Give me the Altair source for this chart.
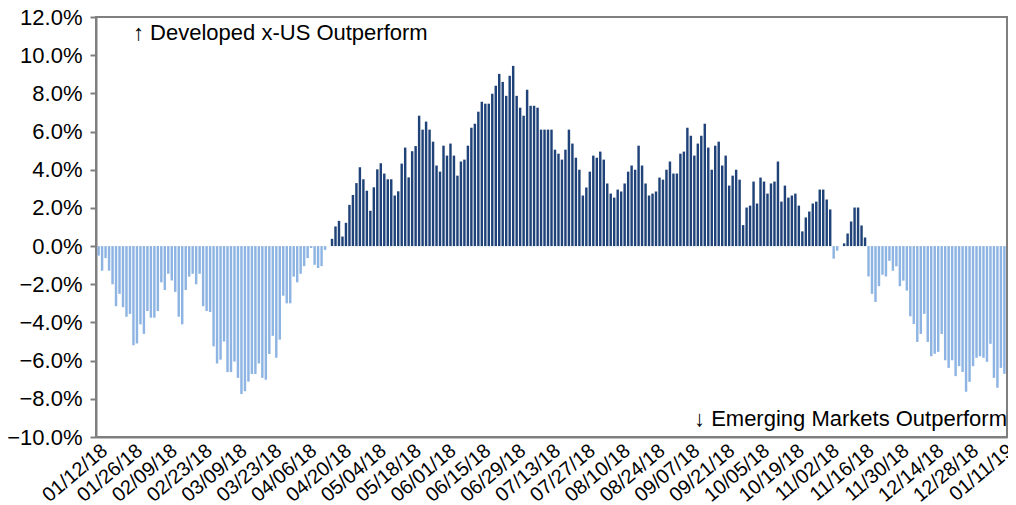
import altair as alt
import pandas as pd

# Daily relative performance (%), Developed x-US minus Emerging Markets
values = [
    -0.5, -1.29, -0.63, -1.29, -2.0, -3.15, -2.5, -3.2, -3.7, -3.55, -5.2, -5.1, -4.1, -4.6, -3.4,
    -3.75, -3.75, -3.4, -1.9, -2.3, -1.45, -1.8, -2.4, -3.7, -4.1,
    -2.3, -1.6, -1.45, -2.0, -1.45, -3.15, -3.4, -3.45, -5.25, -6.15, -5.95, -5.0, -6.6, -6.6,
    -6.05, -6.9, -7.75, -7.6, -7.1, -6.7, -6.7, -6.15, -6.9, -7.0, -5.65,
    -4.7, -5.85, -4.9, -2.6, -3.0, -3.0, -1.6, -1.9, -1.45, -1.05, -0.63, -0.1, -0.98, -1.15,
    -1.05, -0.2, 0.0,
    0.38, 1.03, 1.32, 0.5, 1.22, 2.16, 2.68, 3.3, 4.13, 3.5, 2.9, 1.85, 3.08, 4.02, 4.34, 3.8,
    3.5, 3.5, 2.65, 2.87, 4.32, 5.16, 3.6, 4.97,
    5.24, 6.83, 6.1, 6.52, 6.1, 5.47, 4.22, 3.9, 5.26, 4.74, 5.37, 4.74, 3.69, 4.43, 4.53, 5.26,
    6.2, 6.41, 7.04, 7.56, 7.46, 7.46, 7.98, 8.4, 9.02, 8.6,
    7.87, 8.92, 9.44, 7.87, 7.25, 6.83, 8.19, 7.35, 7.35, 7.25, 6.1, 6.1, 6.1, 6.1, 5.05, 4.84,
    4.53, 5.05, 6.1, 5.37, 4.63, 4.0, 2.65, 3.07, 3.9,
    4.74, 4.63, 4.95, 4.53, 3.28, 2.75, 2.54, 2.96, 2.86, 3.28, 3.9, 4.22, 4.0, 5.26, 4.22, 3.28,
    2.65, 2.75, 2.86, 3.59, 3.48, 4.0, 4.43, 3.8, 3.8,
    4.84, 4.95, 6.2, 5.78, 4.74, 5.37, 5.78, 6.41, 5.16, 4.0, 5.26, 5.47, 4.22, 4.74, 3.17, 3.69,
    4.0, 3.48, 1.1, 2.02, 2.12, 3.38, 2.23, 3.59, 3.38, 2.75,
    3.28, 3.38, 4.43, 2.33, 3.17, 2.54, 2.65, 2.75, 2.12, 0.77, 1.5, 1.81, 2.23, 2.33, 2.96, 2.96,
    2.44, 1.92, -0.66, -0.24, 0.0, 0.14, 0.66, 1.29, 2.02, 2.02, 1.08, 0.45,
    -1.59, -2.5, -2.93, -2.1, -1.5, -1.59, -0.77, -1.29, -1.06, -2.1, -1.81, -2.33, -3.68, -4.08,
    -5.02, -4.6, -3.55, -5.02, -5.77, -5.64, -5.54, -4.6, -5.98, -6.38, -5.98, -6.81, -6.29,
    -6.59, -7.63, -7.11, -6.29, -5.85, -5.77, -5.85, -6.06, -5.12, -6.9, -7.42, -6.38, -6.69,
]

dates = [d.strftime("%m/%d/%y") for d in pd.bdate_range("2018-01-12", "2019-01-11")]
tick_labels = dates[::10]
y_ticks = list(range(-10, 13, 2))

top_text = ["\u2191 Developed x-US Outperform"]
bottom_text = ["\u2193 Emerging  Markets Outperform"]

n = min(len(dates), len(values))
df = pd.DataFrame({
    "date": dates[:n],
    "v": values[:n],
    "side": ["pos" if v >= 0 else "neg" for v in values[:n]],
})

FONT = "Liberation Sans"
GRAY = "#7f7f7f"

bars = alt.Chart(df).mark_bar().encode(
    x=alt.X(
        "date:N",
        sort=dates[:n],
        scale=alt.Scale(paddingInner=0.3, paddingOuter=0.4),
        axis=alt.Axis(
            values=tick_labels,
            title=None,
            labelAngle=-40,
            labelAlign="right",
            labelBaseline="top",
            labelFontSize=20,
            labelFont=FONT,
            labelColor="#000000",
            labelPadding=3,
            ticks=False,
            domainColor=GRAY,
            domainWidth=2,
            labelOverlap=False,
        ),
    ),
    y=alt.Y(
        "v:Q",
        scale=alt.Scale(domain=[-10, 12], nice=False, zero=False),
        axis=alt.Axis(
            values=y_ticks,
            title=None,
            grid=False,
            labelExpr="format(datum.value, '.1f') + '%'",
            labelFontSize=22,
            labelFont=FONT,
            labelColor="#000000",
            labelPadding=8,
            tickSize=6,
            tickColor=GRAY,
            tickWidth=2,
            domainColor=GRAY,
            domainWidth=2,
        ),
    ),
    color=alt.Color(
        "side:N",
        scale=alt.Scale(domain=["pos", "neg"], range=["#1f4378", "#8db4e2"]),
        legend=None,
    ),
)

top_note = alt.Chart(pd.DataFrame({"t": top_text})).mark_text(
    align="left", baseline="middle", fontSize=22, font=FONT, color="#000000"
).encode(x=alt.value(37), y=alt.value(16), text="t:N")

bottom_note = alt.Chart(pd.DataFrame({"t": bottom_text})).mark_text(
    align="right", baseline="middle", fontSize=22, font=FONT, color="#000000"
).encode(x=alt.value(911), y=alt.value(402), text="t:N")

chart = alt.layer(bars, top_note, bottom_note).properties(
    width=911,
    height=420,
    autosize=alt.AutoSizeParams(type="none"),
    padding={"left": 88, "top": 9, "right": 1, "bottom": 68},
).configure_view(stroke=GRAY, strokeWidth=2)

chart.save("out.html", embed_options={"renderer": "svg", "actions": False})
